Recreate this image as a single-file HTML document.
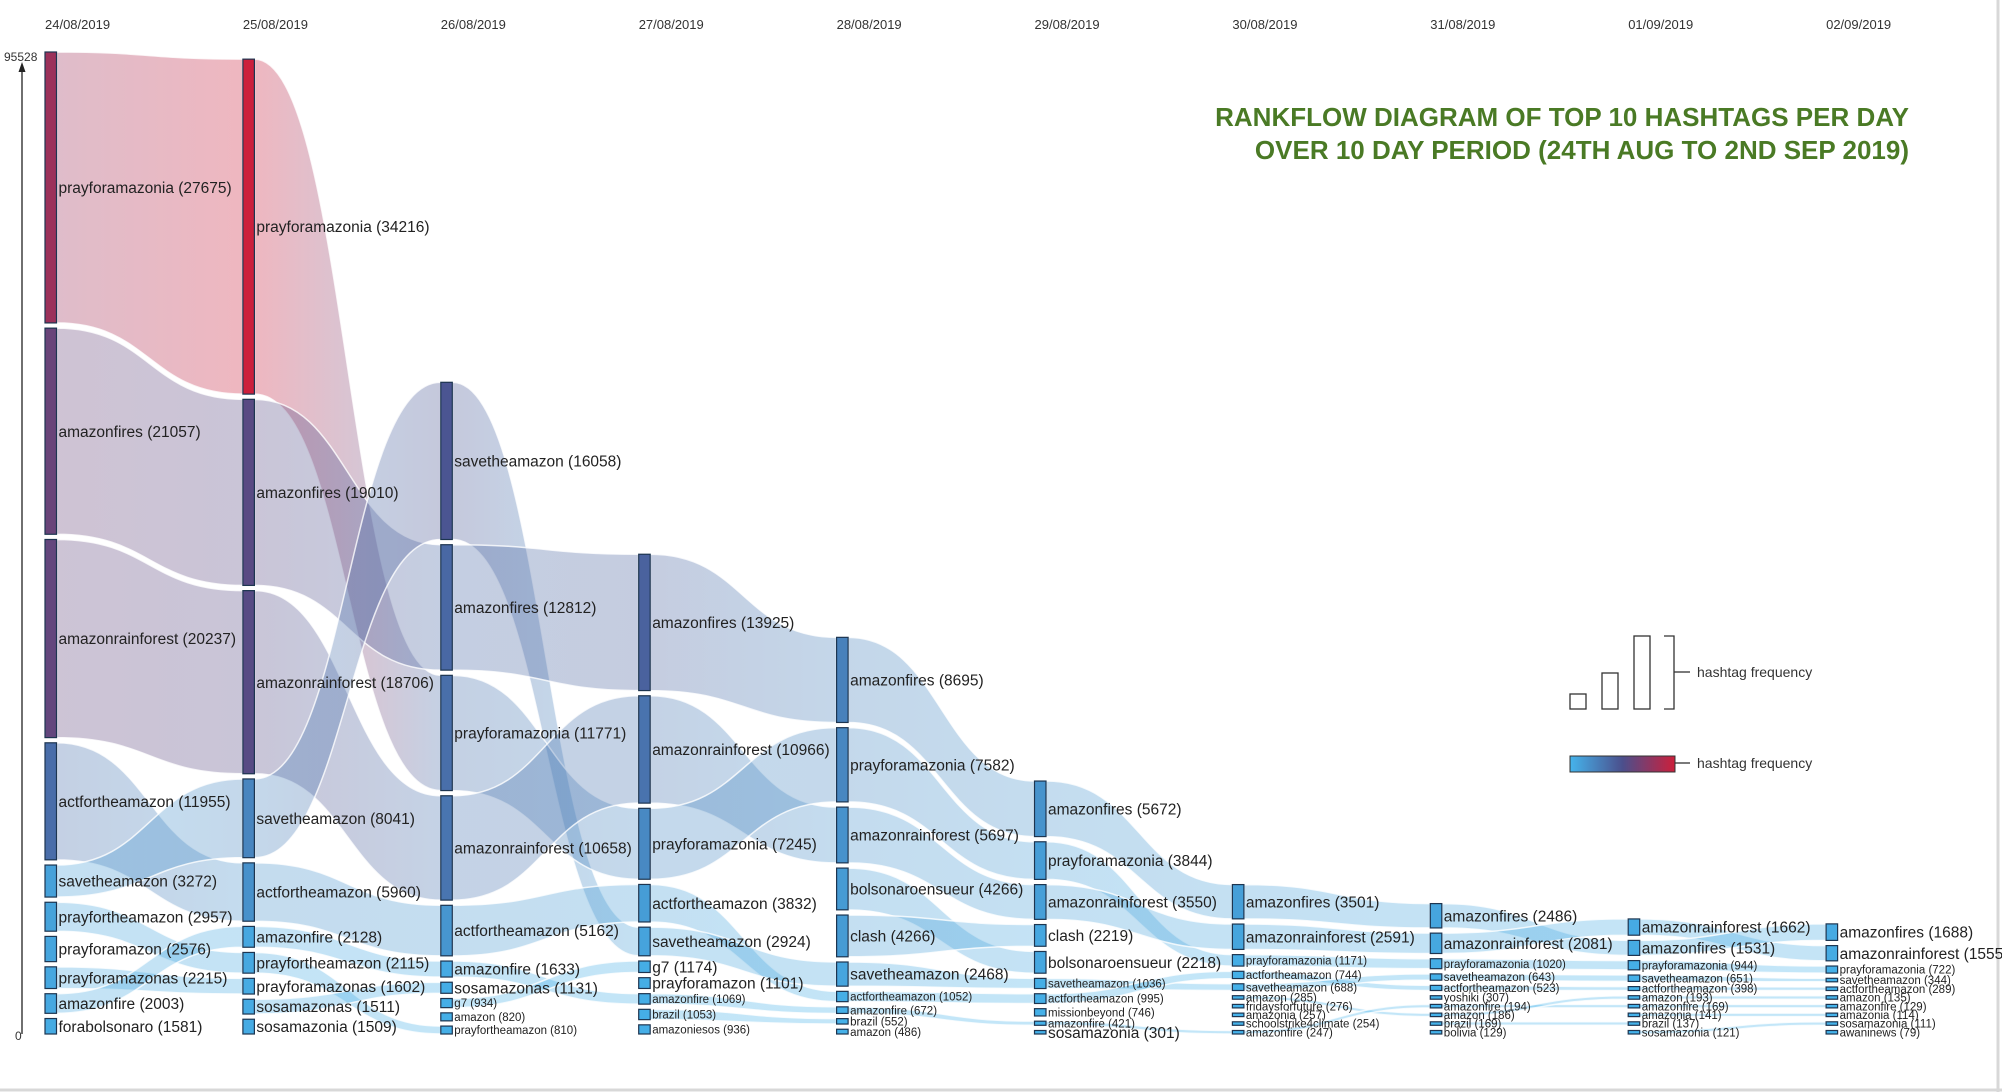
<!DOCTYPE html>
<html><head><meta charset="utf-8"><style>
html,body{margin:0;padding:0;background:#fff;}
svg{display:block;font-family:"Liberation Sans",sans-serif;}
</style></head><body>
<svg id="chart" width="2002" height="1092" viewBox="0 0 2002 1092">
<defs>
<linearGradient id="legGrad" x1="0" x2="1" y1="0" y2="0"><stop offset="0" stop-color="#45b4ec"/><stop offset="0.5" stop-color="#4b4f8c"/><stop offset="1" stop-color="#cc1f3b"/></linearGradient>
</defs>
<line x1="1998" y1="0" x2="1998" y2="1092" stroke="#d8d8d8" stroke-width="3"/>
<line x1="0" y1="1090" x2="2002" y2="1090" stroke="#d8d8d8" stroke-width="3"/>
<g id="flows"></g>
<g id="bars"></g>
<g id="labels"></g>
<g id="dates"></g>
<g>
<line x1="22" y1="1034" x2="22" y2="70" stroke="#222" stroke-width="1.3"/>
<polygon points="22,62 18.5,72 25.5,72" fill="#222"/>
<text x="4" y="61" font-size="12" fill="#333">95528</text>
<text x="15" y="1040" font-size="12" fill="#333">0</text>
</g>
<g font-weight="bold" font-size="26" fill="#4a7a25" text-anchor="end">
<text x="1909" y="126">RANKFLOW DIAGRAM OF TOP 10 HASHTAGS PER DAY</text>
<text x="1909" y="159">OVER 10 DAY PERIOD (24TH AUG TO 2ND SEP 2019)</text>
</g>
<g>
<rect x="1570" y="694" width="16" height="15" fill="#fff" stroke="#333" stroke-width="1.3"/>
<rect x="1602" y="673" width="16" height="36" fill="#fff" stroke="#333" stroke-width="1.3"/>
<rect x="1634" y="636" width="16" height="73" fill="#fff" stroke="#333" stroke-width="1.3"/>
<polyline points="1664,636 1674,636 1674,709 1664,709" fill="none" stroke="#333" stroke-width="1.3"/>
<line x1="1674" y1="672" x2="1690" y2="672" stroke="#333" stroke-width="1.3"/>
<text x="1697" y="677" font-size="14" fill="#333">hashtag frequency</text>
<rect x="1570" y="756" width="105" height="16" fill="url(#legGrad)" stroke="#333" stroke-width="1"/>
<line x1="1675" y1="763" x2="1690" y2="763" stroke="#333" stroke-width="1.3"/>
<text x="1697" y="768" font-size="14" fill="#333">hashtag frequency</text>
</g>
</svg>
<script>
const days = ["24/08/2019","25/08/2019","26/08/2019","27/08/2019","28/08/2019","29/08/2019","30/08/2019","31/08/2019","01/09/2019","02/09/2019"];
const day1Tags = ["prayforamazonia","amazonfires","amazonrainforest","actfortheamazon","savetheamazon","prayfortheamazon","prayforamazon","prayforamazonas","amazonfire","forabolsonaro"];
const day1Vals = [27675,21057,20237,11955,3272,2957,2576,2215,2003,1581];
const day2Tags = ["prayforamazonia","amazonfires","amazonrainforest","savetheamazon","actfortheamazon","amazonfire","prayfortheamazon","prayforamazonas","sosamazonas","sosamazonia"];
const day2Vals = [34216,19010,18706,8041,5960,2128,2115,1602,1511,1509];
const day3Tags = ["savetheamazon","amazonfires","prayforamazonia","amazonrainforest","actfortheamazon","amazonfire","sosamazonas","g7","amazon","prayfortheamazon"];
const day3Vals = [16058,12812,11771,10658,5162,1633,1131,934,820,810];
const day4Tags = ["amazonfires","amazonrainforest","prayforamazonia","actfortheamazon","savetheamazon","g7","prayforamazon","amazonfire","brazil","amazoniesos"];
const day4Vals = [13925,10966,7245,3832,2924,1174,1101,1069,1053,936];
const day5Tags = ["amazonfires","prayforamazonia","amazonrainforest","bolsonaroensueur","clash","savetheamazon","actfortheamazon","amazonfire","brazil","amazon"];
const day5Vals = [8695,7582,5697,4266,4266,2468,1052,672,552,486];
const day6Tags = ["amazonfires","prayforamazonia","amazonrainforest","clash","bolsonaroensueur","savetheamazon","actfortheamazon","missionbeyond","amazonfire","sosamazonia"];
const day6Vals = [5672,3844,3550,2219,2218,1036,995,746,421,301];
const day7Tags = ["amazonfires","amazonrainforest","prayforamazonia","actfortheamazon","savetheamazon","amazon","fridaysforfuture","amazonia","schoolstrike4climate","amazonfire"];
const day7Vals = [3501,2591,1171,744,688,285,276,257,254,247];
const day8Tags = ["amazonfires","amazonrainforest","prayforamazonia","savetheamazon","actfortheamazon","yoshiki","amazonfire","amazon","brazil","bolivia"];
const day8Vals = [2486,2081,1020,643,523,307,194,186,169,129];
const day9Tags = ["amazonrainforest","amazonfires","prayforamazonia","savetheamazon","actfortheamazon","amazon","amazonfire","amazonia","brazil","sosamazonia"];
const day9Vals = [1662,1531,944,651,398,193,169,141,137,121];
const day10Tags = ["amazonfires","amazonrainforest","prayforamazonia","savetheamazon","actfortheamazon","amazon","amazonfire","amazonia","sosamazonia","awaninews"];
const day10Vals = [1688,1555,722,344,289,135,129,114,111,79];
const yMax = 95528;

const allTags = [day1Tags,day2Tags,day3Tags,day4Tags,day5Tags,day6Tags,day7Tags,day8Tags,day9Tags,day10Tags];
const allVals = [day1Vals,day2Vals,day3Vals,day4Vals,day5Vals,day6Vals,day7Vals,day8Vals,day9Vals,day10Vals];
const bigLabelCount = [10,10,7,7,6,5,2,2,2,2];

const NS = "http://www.w3.org/2000/svg";
const svg = document.getElementById("chart");
const defs = svg.querySelector("defs");
const gF = document.getElementById("flows"), gB = document.getElementById("bars"), gL = document.getElementById("labels"), gD = document.getElementById("dates");
const x0 = 45, colStep = 197.9, barW = 11.5, baseY = 1034, gap = 5.2, minH = 3.5;
const k = (baseY - 52 - 9 * gap) / yMax;
function xScale(i){ return x0 + i * colStep; }
function hScale(v){ return Math.max(minH, v * k); }
function mix(a,b,t){ return a.map((c,i)=>Math.round(c+(b[i]-c)*t)); }
function colorOf(v){
  const c0=[69,180,236], c1=[75,79,140], c2=[204,31,59];
  let t=Math.min(1,v/34216);
  const c = t<0.5 ? mix(c0,c1,t/0.5) : mix(c1,c2,(t-0.5)/0.5);
  return "rgb("+c.join(",")+")";
}
function el(tag, attrs, parent){ const e=document.createElementNS(NS,tag); for(const a in attrs) e.setAttribute(a,attrs[a]); parent.appendChild(e); return e; }

const layout = allVals.map((vals) => {
  const hs = vals.map(hScale);
  let y = baseY; const pos = [];
  for (let j = vals.length - 1; j >= 0; j--) { y -= hs[j]; pos[j] = {y: y, h: hs[j]}; y -= gap; }
  return pos;
});

days.forEach((d,i)=>{
  const t = el("text",{x:xScale(i),y:29,"font-size":13,fill:"#333"},gD);
  
  
  t.textContent = d;
});

let gid = 0;
for (let i = 0; i < allTags.length - 1; i++) {
  allTags[i].forEach((tag, j) => {
    const m = allTags[i+1].indexOf(tag);
    if (m < 0) return;
    const a = layout[i][j], b = layout[i+1][m];
    const xa = xScale(i) + barW, xb = xScale(i+1), xm = (xa + xb) / 2;
    const id = "fg" + (gid++);
    const lg = el("linearGradient",{id:id,gradientUnits:"userSpaceOnUse",x1:xa,x2:xb,y1:0,y2:0},defs);
    el("stop",{offset:0,"stop-color":colorOf(allVals[i][j])},lg);
    el("stop",{offset:1,"stop-color":colorOf(allVals[i+1][m])},lg);
    const d = `M${xa},${a.y} C${xm},${a.y} ${xm},${b.y} ${xb},${b.y} L${xb},${b.y+b.h} C${xm},${b.y+b.h} ${xm},${a.y+a.h} ${xa},${a.y+a.h} Z`;
    const p = el("path",{d:d,fill:`url(#${id})`,"fill-opacity":0.32,stroke:"#fff","stroke-width":1.5,"stroke-opacity":0.8},gF);
    
    
  });
}

allTags.forEach((tags, i) => {
  tags.forEach((tag, j) => {
    const p = layout[i][j], v = allVals[i][j];
    const r = el("rect",{x:xScale(i),y:p.y,width:barW,height:p.h,fill:colorOf(v),stroke:"#1d3550","stroke-width":1.2},gB);
    
    
    const big = j < bigLabelCount[i] || (i === 5 && tag === "sosamazonia");
    const fs = big ? 15.5 : 11.5;
    const t = el("text",{x:xScale(i)+barW+2,y:p.y+p.h/2+fs*0.36,"font-size":fs,fill:"#222"},gL);
    
    
    t.textContent = tag + " (" + v + ")";
  });
});
</script>
</body></html>
